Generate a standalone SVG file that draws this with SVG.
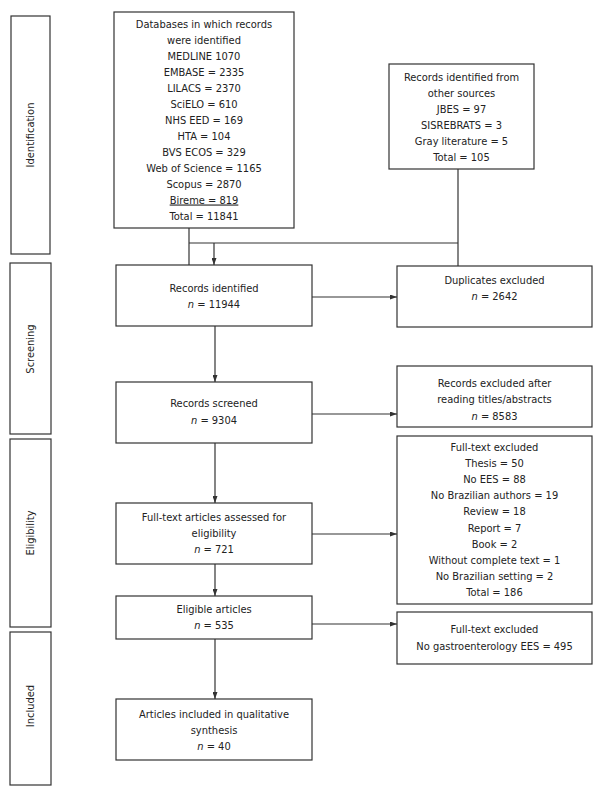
<svg xmlns="http://www.w3.org/2000/svg" width="600" height="796" viewBox="0 0 600 796">
<defs>
<style>
.box{fill:#fff;stroke:#333;stroke-width:1.2}
.t{font-family:"DejaVu Sans Condensed","Liberation Sans",Arial,sans-serif;font-size:11px;fill:#222;text-anchor:middle}
.ln{fill:none;stroke:#333;stroke-width:1.2}
.i{font-style:italic}
</style>
<marker id="ah" markerWidth="7" markerHeight="5" refX="7" refY="2.5" orient="auto" markerUnits="userSpaceOnUse">
<path d="M0,0 L7,2.5 L0,5 Z" fill="#333"/>
</marker>
</defs>
<rect width="600" height="796" fill="#fff"/>

<g id="phase-identification">
<rect class="box" x="11" y="16" width="39" height="238"/>
<text class="t" transform="translate(34,135) rotate(-90)">Identification</text>
</g>
<g id="phase-screening">
<rect class="box" x="10" y="263" width="41" height="171"/>
<text class="t" transform="translate(34,349) rotate(-90)">Screening</text>
</g>
<g id="phase-eligibility">
<rect class="box" x="10" y="439" width="41" height="188"/>
<text class="t" transform="translate(34,533) rotate(-90)">Eligibility</text>
</g>
<g id="phase-included">
<rect class="box" x="10" y="632" width="41" height="153"/>
<text class="t" transform="translate(34,706) rotate(-90)">Included</text>
</g>

<g id="connectors">
<path class="ln" d="M189,228 V265"/>
<path class="ln" d="M189,243 H458"/>
<path class="ln" d="M458,169 V266"/>
<path class="ln" d="M214,243 V265" marker-end="url(#ah)"/>
<path class="ln" d="M312,297 H397" marker-end="url(#ah)"/>
<path class="ln" d="M215,326 V382" marker-end="url(#ah)"/>
<path class="ln" d="M312,414 H397" marker-end="url(#ah)"/>
<path class="ln" d="M215,443 V503" marker-end="url(#ah)"/>
<path class="ln" d="M312,534 H397" marker-end="url(#ah)"/>
<path class="ln" d="M215,564 V596" marker-end="url(#ah)"/>
<path class="ln" d="M312,624 H397" marker-end="url(#ah)"/>
<path class="ln" d="M215,639 V699" marker-end="url(#ah)"/>
</g>

<g id="databases">
<rect class="box" x="114" y="12" width="180" height="216"/>
<text class="t" x="204" y="27.5">Databases in which records</text>
<text class="t" x="204" y="43.5">were identified</text>
<text class="t" x="204" y="59.5">MEDLINE 1070</text>
<text class="t" x="204" y="75.5">EMBASE = 2335</text>
<text class="t" x="204" y="91.5">LILACS = 2370</text>
<text class="t" x="204" y="107.5">SciELO = 610</text>
<text class="t" x="204" y="123.5">NHS EED = 169</text>
<text class="t" x="204" y="139.5">HTA = 104</text>
<text class="t" x="204" y="155.5">BVS ECOS = 329</text>
<text class="t" x="204" y="171.5">Web of Science = 1165</text>
<text class="t" x="204" y="187.5">Scopus = 2870</text>
<text class="t" x="204" y="203.5" text-decoration="underline">Bireme = 819</text>
<text class="t" x="204" y="219.5">Total = 11841</text>
</g>

<g id="other-sources">
<rect class="box" x="389" y="64" width="145" height="105"/>
<text class="t" x="461.5" y="80.5">Records identified from</text>
<text class="t" x="461.5" y="96.5">other sources</text>
<text class="t" x="461.5" y="112.5">JBES = 97</text>
<text class="t" x="461.5" y="128.5">SISREBRATS = 3</text>
<text class="t" x="461.5" y="144.5">Gray literature = 5</text>
<text class="t" x="461.5" y="160.5">Total = 105</text>
</g>

<g id="records-identified">
<rect class="box" x="116" y="265" width="196" height="61"/>
<text class="t" x="214" y="291.5">Records identified</text>
<text class="t" x="214" y="308"><tspan class="i">n</tspan> = 11944</text>
</g>

<g id="duplicates-excluded">
<rect class="box" x="397" y="266" width="195" height="61"/>
<text class="t" x="494.5" y="284">Duplicates excluded</text>
<text class="t" x="494.5" y="300"><tspan class="i">n</tspan> = 2642</text>
</g>

<g id="records-screened">
<rect class="box" x="116" y="382" width="196" height="61"/>
<text class="t" x="214" y="407">Records screened</text>
<text class="t" x="214" y="424"><tspan class="i">n</tspan> = 9304</text>
</g>

<g id="records-excluded">
<rect class="box" x="397" y="366" width="195" height="61"/>
<text class="t" x="494.5" y="387">Records excluded after</text>
<text class="t" x="494.5" y="403">reading titles/abstracts</text>
<text class="t" x="494.5" y="419.5"><tspan class="i">n</tspan> = 8583</text>
</g>

<g id="fulltext-excluded-1">
<rect class="box" x="397" y="436" width="195" height="168"/>
<text class="t" x="494.5" y="450.5">Full-text excluded</text>
<text class="t" x="494.5" y="466.7">Thesis = 50</text>
<text class="t" x="494.5" y="482.9">No EES = 88</text>
<text class="t" x="494.5" y="499.1">No Brazilian authors = 19</text>
<text class="t" x="494.5" y="515.3">Review = 18</text>
<text class="t" x="494.5" y="531.5">Report = 7</text>
<text class="t" x="494.5" y="547.7">Book = 2</text>
<text class="t" x="494.5" y="563.9">Without complete text = 1</text>
<text class="t" x="494.5" y="580.1">No Brazilian setting = 2</text>
<text class="t" x="494.5" y="596.3">Total = 186</text>
</g>

<g id="fulltext-assessed">
<rect class="box" x="116" y="503" width="196" height="61"/>
<text class="t" x="214" y="521">Full-text articles assessed for</text>
<text class="t" x="214" y="537">eligibility</text>
<text class="t" x="214" y="553"><tspan class="i">n</tspan> = 721</text>
</g>

<g id="eligible-articles">
<rect class="box" x="116" y="596" width="196" height="43"/>
<text class="t" x="214" y="613">Eligible articles</text>
<text class="t" x="214" y="629"><tspan class="i">n</tspan> = 535</text>
</g>

<g id="fulltext-excluded-2">
<rect class="box" x="397" y="612" width="195" height="52"/>
<text class="t" x="494.5" y="633">Full-text excluded</text>
<text class="t" x="494.5" y="649.5">No gastroenterology EES = 495</text>
</g>

<g id="articles-included">
<rect class="box" x="116" y="699" width="196" height="61"/>
<text class="t" x="214" y="718">Articles included in qualitative</text>
<text class="t" x="214" y="734">synthesis</text>
<text class="t" x="214" y="750"><tspan class="i">n</tspan> = 40</text>
</g>
</svg>
